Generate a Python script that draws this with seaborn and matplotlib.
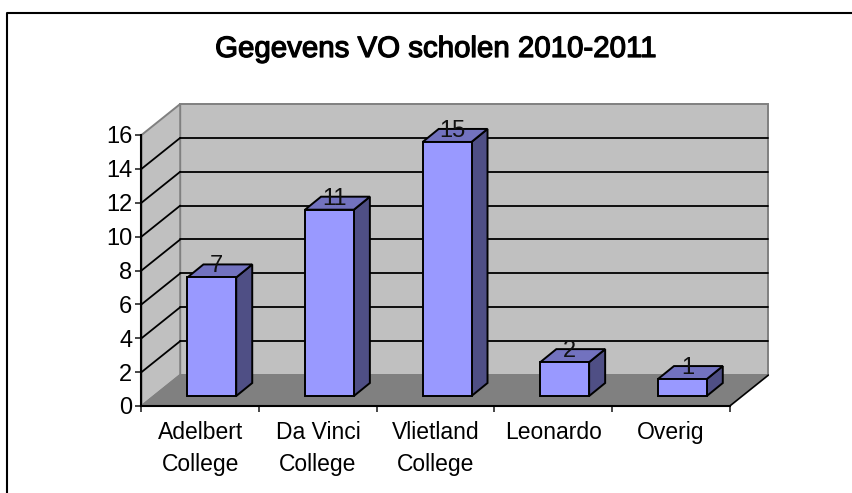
import matplotlib
matplotlib.use("Agg")
import matplotlib.pyplot as plt
import matplotlib.patheffects as pe
import seaborn as sns
from matplotlib.lines import Line2D
from matplotlib.patches import Polygon
from matplotlib.transforms import Affine2D, IdentityTransform

categories = ["Adelbert\nCollege", "Da Vinci\nCollege", "Vlietland\nCollege", "Leonardo", "Overig"]
values = [7, 11, 15, 2, 1]
y_ticks = [0, 2, 4, 6, 8, 10, 12, 14, 16]
title = "Gegevens VO scholen 2010-2011"

W, H = 853, 493
BAR_FRONT = (11.5, 10)   # pixel shift of the bars front plane
BAR_BACK = (27.5, 23)    # pixel shift of the bars back plane
WALL = (38.7, 31)        # pixel shift of the back wall
NARROW = ['Liberation Sans Narrow', 'Liberation Sans', 'DejaVu Sans']

sns.set_style("white")
plt.rcParams['font.family'] = ['Liberation Sans', 'DejaVu Sans']
plt.rcParams['text.color'] = 'black'
plt.rcParams['xtick.labelcolor'] = 'black'
plt.rcParams['ytick.labelcolor'] = 'black'

fig = plt.figure(figsize=(W / 100, H / 100), dpi=100)
ax = fig.add_axes([141.5 / W, (H - 406) / H, 588.2 / W, 271 / H])

sns.barplot(x=categories, y=values, color="#9999FF", saturation=1, width=0.415,
            edgecolor="black", linewidth=1.4, ax=ax, zorder=6)
ax.set_xlim(-0.5, 4.5)
ax.set_ylim(0, 16)
ax.set_xlabel("")
ax.set_ylabel("")
ax.patch.set_alpha(0)


def px(x, y, shift=(0, 0)):
    a, b = ax.transData.transform((x, y))
    return (a + shift[0], b + shift[1])


def face(points, color, edge, z, lw=1.4):
    ax.add_patch(Polygon(points, closed=True, facecolor=color, edgecolor=edge, linewidth=lw,
                         transform=IdentityTransform(), clip_on=False, zorder=z))


def line(p, q, color="black", z=2, lw=1.3):
    ax.add_line(Line2D([p[0], q[0]], [p[1], q[1]], color=color, linewidth=lw,
                       transform=IdentityTransform(), clip_on=False, zorder=z))


# walls and floor
x0, x1 = -0.5, 4.5
face([px(x0, 0, WALL), px(x1, 0, WALL), px(x1, 16, WALL), px(x0, 16, WALL)], "#C0C0C0", "#808080", 1)
face([px(x0, 0), px(x0, 0, WALL), px(x0, 16, WALL), px(x0, 16)], "#C0C0C0", "#808080", 1)
face([px(x0, 0), px(x1, 0), px(x1, 0, WALL), px(x0, 0, WALL)], "#808080", "#808080", 3)
line(px(x1, 0), px(x1, 0, WALL), z=4, lw=1.1)

for t in y_ticks[1:-1]:
    line(px(x0, t), px(x0, t, WALL))
    line(px(x0, t, WALL), px(x1, t, WALL))

# 3d bars
shift_front = Affine2D().translate(*BAR_FRONT)
for bar, v in zip(list(ax.patches), values):
    left, right = bar.get_x(), bar.get_x() + bar.get_width()
    bar.set_transform(ax.transData + shift_front)
    bar.set_clip_on(False)
    face([px(right, 0, BAR_FRONT), px(right, 0, BAR_BACK), px(right, v, BAR_BACK), px(right, v, BAR_FRONT)],
         "#4F4F85", "black", 5)
    face([px(left, v, BAR_FRONT), px(right, v, BAR_FRONT), px(right, v, BAR_BACK), px(left, v, BAR_BACK)],
         "#7272BF", "black", 5)
    cx, cy = px((left + right) / 2, v, BAR_FRONT)
    ax.text(cx + 5, cy + 11, str(v), ha="center", va="center", fontsize=17, family=NARROW,
            color="#111111", transform=IdentityTransform(), zorder=8)

# axes
sns.despine(ax=ax, top=True, right=True)
for side in ["left", "bottom"]:
    ax.spines[side].set_color("black")
    ax.spines[side].set_linewidth(1.5)
    ax.spines[side].set_zorder(7)
ax.set_yticks(y_ticks)
ax.tick_params(axis="y", length=4.5, width=1.2, labelsize=17, pad=2, left=True)
for lab in ax.get_yticklabels():
    lab.set_family(NARROW)
ax.set_xticks(range(len(categories)))
ax.set_xticklabels(categories, linespacing=1.5)
ax.tick_params(axis="x", which="major", length=0, labelsize=16.5, pad=10.5)
ax.set_xticks([x0 + i for i in range(6)], minor=True)
ax.tick_params(axis="x", which="minor", length=4.5, width=1.2, bottom=True)

fig.text(435 / W, (H - 49) / H, title, ha="center", va="center", fontsize=21.2, color="black",
         path_effects=[pe.withStroke(linewidth=0.9, foreground="black")])

# chart frame, only top and left are in the crop
fig.add_artist(Line2D([7 / W, 7 / W, 1], [0, (H - 13) / H, (H - 13) / H], color="black", linewidth=1.5,
                      transform=fig.transFigure))

fig.savefig("out.png", dpi=100)
